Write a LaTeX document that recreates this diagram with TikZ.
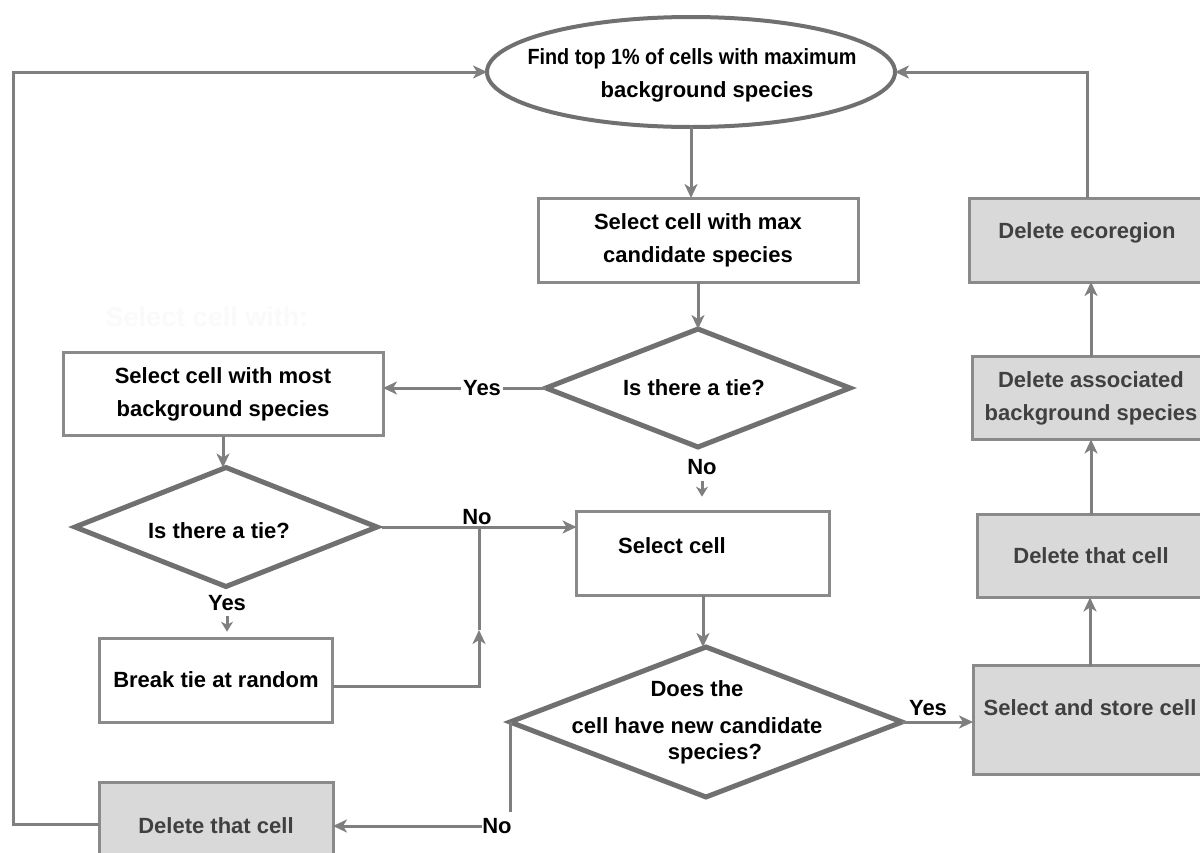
\documentclass[tikz,border=0pt]{standalone}
\usepackage{graphicx}
\usepackage{fontspec}
\setmainfont{Liberation Sans}
\usetikzlibrary{shapes.geometric,arrows.meta,calc}
\definecolor{linegray}{HTML}{7F7F7F}
\definecolor{boxgray}{HTML}{8A8A8A}
\definecolor{diagray}{HTML}{707070}
\definecolor{fillgray}{HTML}{D9D9D9}
\definecolor{textgray}{HTML}{404040}
\definecolor{ghost}{HTML}{FAFAFA}
% raise a single line of text without changing the size of its box
\newcommand\liftby[2]{\raisebox{#1}[\height][\depth]{#2}}

\begin{document}
\begin{tikzpicture}[x=1pt,y=-1pt,
  font=\fontsize{22}{33}\selectfont\bfseries,
  every node/.style={inner sep=0pt, outer sep=0pt},
  box/.style={draw=boxgray, line width=3pt, rectangle, fill=white, align=center},
  gbox/.style={box, fill=fillgray, text=textgray},
  dia/.style={draw=diagray, line width=5pt, diamond, fill=white},
  conn/.style={draw=linegray, line width=3pt},
  arr/.style={conn, -{Stealth[length=14pt,width=13pt,inset=4pt]}},
  sarr/.style={conn, -{Stealth[length=10pt,width=12pt,inset=3pt]}},
]
\useasboundingbox (0,0) rectangle (1200,852);
\clip (0,0) rectangle (1200,852);
\fill[white] (0,0) rectangle (1200,852);

% faint heading left over in the background
\node[text=ghost, font=\fontsize{27}{30}\selectfont\bfseries] (ghost) at (207,317) {Select cell with:};

% start
\node[draw=diagray, line width=4pt, ellipse, minimum width=408pt, minimum height=110pt, fill=white] (ell) at (691,72) {};
\node[align=center] (ellt) at (692,75) {\scalebox{0.9}[1]{Find top 1\% of cells with maximum}\\\hspace*{30pt}background species};

% main column
\node[box, minimum width=320pt, minimum height=84pt] (b1) at (698,240) {Select cell with max\\candidate species};
\node[dia, minimum width=304pt, minimum height=118pt] (d1) at (698,388) {};
\node (d1t) at (694,388) {Is there a tie?};
\node[box, minimum width=253pt, minimum height=84pt] (b4) at (703,553) {\liftby{7pt}{Select cell\hspace*{62pt}}};
\node[dia, minimum width=392pt, minimum height=150pt] (d3) at (706,722) {};
\node[align=center] (d3t) at (697,722) {Does the\\[4pt]cell have new candidate\\[-7pt]\hspace*{36pt}species?};

% tie-break column
\node[box, minimum width=320pt, minimum height=83pt] (b2) at (223,394) {Select cell with most\\background species};
\node[dia, minimum width=302pt, minimum height=119pt] (d2) at (226,527) {};
\node (d2t) at (219,531) {Is there a tie?};
\node[box, minimum width=233pt, minimum height=84pt] (b3) at (216,680) {Break tie at random};
\node[gbox, minimum width=234pt, minimum height=87pt] (g5) at (216,826) {Delete that cell};

% storing column
\node[gbox, minimum width=234pt, minimum height=109pt] (g1) at (1090,720) {\liftby{12pt}{Select and store cell}};
\node[gbox, minimum width=228pt, minimum height=83pt] (g2) at (1091,556) {Delete that cell};
\node[gbox, minimum width=237pt, minimum height=83pt] (g3) at (1091,398) {Delete associated\\background species};
\node[gbox, minimum width=236pt, minimum height=84pt] (g4) at (1087,240) {\liftby{7pt}{Delete ecoregion}};

% labels on the branches
\node[inner xsep=2pt] (yes1) at (482,388) {Yes};
\node (no1) at (702,467) {No};
\node[anchor=south] (no2) at (477,525) {No};
\node (yes2) at (227,603) {Yes};
\node[anchor=south] (yes3) at (928,716) {Yes};
\node (no3) at (497,826) {No};
\coordinate (j) at (479,527);
\coordinate (jm) at (479,630);
\coordinate (lc) at (13,824);

% connectors
\draw[arr] (ell.south) -- (ell.south |- b1.north);
\draw[arr] (b1.south) -- (d1.north);
\draw[conn] (d1.west) -- (yes1.east);
\draw[arr] (yes1.west) -- (yes1.west -| b2.east);
\draw[sarr] ([yshift=-6pt]no1.south) -- ++(0,16);
\draw[arr] (b2.south) -- (b2.south |- d2.north);
\draw[arr] ([xshift=5pt]d2.east) -- (d2.east -| b4.west);
\draw[sarr] ([yshift=-5pt]yes2.south) -- ++(0,16);
\draw[arr] ([yshift=-6pt]b3.east) -| (jm);
\draw[conn] (jm) -- (j);
\draw[arr] (b4.south) -- (b4.south |- d3.north);
\draw[arr] (d3.east) -- (d3.east -| g1.west);
\draw[conn] (d3.west) -- ($(d3.west |- no3.north)+(0,-6)$);
\draw[arr] (no3.west) -- (no3.west -| g5.east);
\draw[arr] (g5.west |- lc) -- (lc) |- (ell.west);
\draw[arr] (g1.north) -- (g1.north |- g2.south);
\draw[arr] (g2.north) -- (g2.north |- g3.south);
\draw[arr] (g3.north) -- (g3.north |- g4.south);
\draw[arr] (g4.north) |- (ell.east);
\end{tikzpicture}
\end{document}
